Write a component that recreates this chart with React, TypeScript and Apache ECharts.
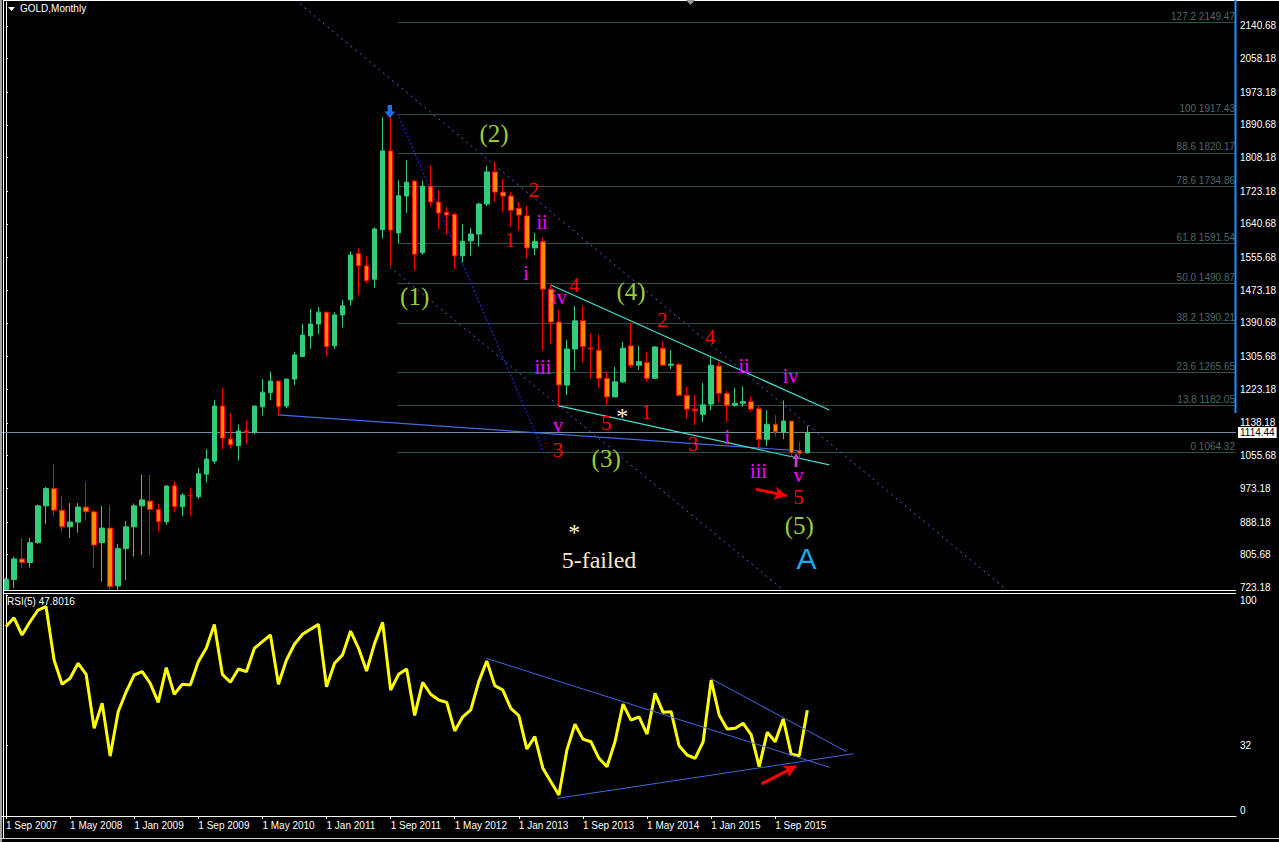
import React, { useEffect, useRef } from "react";
import * as echarts from "echarts";

// ---------- DATA ----------
const MONTHS = ["Jan", "Feb", "Mar", "Apr", "May", "Jun", "Jul", "Aug", "Sep", "Oct", "Nov", "Dec"];
const START_YEAR = 2007;
const START_MONTH = 8; // Sep
const SLOT_COUNT = 154; // visible monthly slots (data + empty future space)
const categories = Array.from({ length: SLOT_COUNT }, (_, i) => {
  const m = (START_MONTH + i) % 12;
  const y = START_YEAR + Math.floor((START_MONTH + i) / 12);
  return `1 ${MONTHS[m]} ${y}`;
});

// Monthly GOLD OHLC, Sep 2007 .. Jan 2016
const opens = [
  673, 743, 795, 786, 836, 929, 973, 918, 876, 888, 926, 914, 836, 873, 727, 821,
  876, 929, 941, 920, 889, 980, 927, 955, 952, 1009, 1042, 1181, 1098, 1081, 1118, 1114,
  1179, 1215, 1244, 1181, 1249, 1306, 1358, 1388, 1418, 1333, 1411, 1449, 1566, 1535, 1501, 1626,
  1825, 1618, 1711, 1749, 1568, 1736, 1696, 1670, 1665, 1560, 1598, 1615, 1691, 1772, 1721, 1711,
  1680, 1661, 1580, 1596, 1476, 1393, 1234, 1325, 1396, 1327, 1322, 1251, 1204, 1242, 1333, 1284,
  1291, 1251, 1327, 1284, 1286, 1208, 1173, 1160, 1186, 1282, 1213, 1183, 1188, 1192, 1174, 1097,
  1135, 1115, 1143, 1068, 1063,
];
const highs = [
  748, 801, 848, 848, 932, 977, 1035, 954, 936, 936, 989, 918, 929, 931, 833, 891,
  935, 1007, 1007, 934, 981, 992, 961, 974, 1025, 1072, 1196, 1226, 1163, 1135, 1146, 1182,
  1249, 1268, 1244, 1250, 1318, 1388, 1426, 1431, 1418, 1418, 1449, 1571, 1580, 1560, 1632, 1910,
  1923, 1751, 1802, 1749, 1750, 1789, 1726, 1683, 1669, 1640, 1630, 1694, 1787, 1798, 1754, 1722,
  1697, 1686, 1618, 1605, 1487, 1424, 1348, 1433, 1434, 1365, 1361, 1268, 1280, 1343, 1392, 1333,
  1318, 1332, 1344, 1322, 1290, 1230, 1209, 1239, 1306, 1294, 1219, 1227, 1230, 1205, 1181, 1171,
  1158, 1195, 1143, 1091, 1131,
];
const lows = [
  670, 722, 773, 773, 833, 883, 903, 864, 848, 861, 893, 773, 738, 681, 705, 742,
  801, 805, 805, 864, 881, 912, 903, 903, 946, 988, 1035, 1072, 1073, 1043, 1085, 1110,
  1157, 1196, 1157, 1176, 1234, 1306, 1325, 1363, 1308, 1325, 1379, 1435, 1461, 1491, 1479, 1604,
  1535, 1592, 1668, 1523, 1563, 1684, 1628, 1613, 1527, 1543, 1560, 1583, 1686, 1697, 1671, 1634,
  1624, 1555, 1562, 1321, 1338, 1179, 1209, 1271, 1293, 1252, 1226, 1184, 1204, 1239, 1277, 1272,
  1242, 1249, 1282, 1274, 1206, 1151, 1133, 1141, 1170, 1191, 1141, 1179, 1179, 1167, 1075, 1080,
  1104, 1098, 1053, 1047, 1061,
];
const closes = [
  743, 795, 786, 836, 929, 973, 918, 876, 888, 926, 914, 830, 873, 725, 821, 876,
  929, 944, 920, 889, 979, 927, 956, 954, 1010, 1047, 1181, 1100, 1083, 1118, 1115, 1181,
  1216, 1244, 1179, 1249, 1310, 1360, 1388, 1418, 1331, 1411, 1434, 1562, 1535, 1497, 1628, 1825,
  1625, 1712, 1746, 1564, 1736, 1696, 1668, 1663, 1560, 1597, 1615, 1691, 1772, 1721, 1711, 1675,
  1663, 1580, 1596, 1476, 1393, 1234, 1325, 1396, 1331, 1325, 1251, 1204, 1242, 1327, 1284, 1293,
  1251, 1330, 1284, 1287, 1208, 1173, 1169, 1184, 1284, 1213, 1183, 1188, 1192, 1173, 1097, 1135,
  1116, 1143, 1063, 1062, 1114.44,
];

// RSI(5)
const rsiValues = [
  85.7, 89.7, 81.9, 87.9, 93.2, 94.7, 70.6, 59.6, 62.3, 69.1, 64.1, 39.7, 51.0, 27.1, 47.2, 56.2,
  63.8, 65.3, 60.0, 51.4, 67.1, 55.1, 59.6, 59.3, 69.8, 76.0, 86.7, 64.1, 60.5, 66.5, 65.3, 75.9,
  78.9, 81.9, 59.6, 70.6, 77.7, 82.2, 84.5, 86.7, 58.5, 69.1, 72.9, 83.7, 75.9, 65.6, 78.1, 87.6,
  57.0, 64.1, 66.5, 45.5, 60.5, 55.1, 52.5, 51.4, 38.5, 44.9, 48.0, 60.8, 70.1, 59.0, 57.0, 48.7,
  45.4, 30.3, 35.9, 21.6, 15.5, 9.5, 29.9, 41.5, 34.8, 33.6, 26.1, 22.3, 33.6, 50.6, 43.4, 44.9,
  37.0, 55.5, 46.9, 47.2, 31.8, 27.6, 26.1, 33.6, 61.5, 45.7, 39.4, 39.7, 41.9, 36.7, 22.3, 37.9,
  33.6, 43.9, 27.9, 27.3, 47.8,
];

// Price axis tick labels (as printed by the terminal)
const priceTicks = [
  2140.68, 2058.18, 1973.18, 1890.68, 1808.18, 1723.18, 1640.68, 1555.68, 1473.18, 1390.68,
  1305.68, 1223.18, 1138.18, 1055.68, 973.18, 888.18, 805.68, 723.18,
];
const rsiTicks = [0, 32, 100];
const currentPrice = 1114.44;

// Fibonacci retracement levels
const fibRatios = ["127.2", "100", "88.6", "78.6", "61.8", "50.0", "38.2", "23.6", "13.8", "0"];
const fibPrices = [2149.47, 1917.43, 1820.17, 1734.86, 1591.54, 1490.87, 1390.21, 1265.65, 1182.05, 1064.32];
const fibStartMonth = 48.9;

// Trend lines on the price panel: [monthIndex, price] pairs
const channelUpper = [[36.1, 2206], [124.9, 716.6]];
const channelLower = [[47.9, 1532], [97.0, 716.6]];
const fibDiagonal = [[48.9, 1919], [67.1, 1065]];
const blueSupport = [[33.9, 1158.5], [99.25, 1067.6]];
const wedgeUpper = [[68.0, 1486.6], [102.75, 1171.1]];
const wedgeLower = [[69.0, 1181.2], [102.75, 1032.3]];
const priceRedArrow = [[93.6, 970.9], [97.4, 954.8]];

// Trend lines on the RSI panel: [monthIndex, rsi]
const rsiLineA = [[59.9, 71.4], [102.8, 22.0]];
const rsiLineB = [[68.8, 8.0], [105.8, 28.2]];
const rsiLineC = [[87.9, 62.3], [104.9, 29.1]];
const rsiRedArrow = [[94.3, 14.5], [98.6, 22.6]];

// Wave labels: text, monthIndex, price, kind
const waveLabels: [string, number, number, string][] = [
  ["(1)", 51.0, 1456.3, "major"],
  ["(2)", 60.9, 1870.2, "major"],
  ["(3)", 74.9, 1047.4, "major"],
  ["(4)", 78.0, 1468.9, "major"],
  ["(5)", 99.0, 878.3, "major"],
  ["1", 62.9, 1600.2, "minor"],
  ["2", 65.9, 1726.4, "minor"],
  ["3", 68.9, 1070.1, "minor"],
  ["4", 70.9, 1486.6, "minor"],
  ["5", 74.9, 1138.3, "minor"],
  ["1", 79.9, 1166.0, "minor"],
  ["2", 81.9, 1398.2, "minor"],
  ["3", 85.75, 1085.3, "minor"],
  ["4", 87.9, 1355.3, "minor"],
  ["5", 98.9, 951.5, "minor"],
  ["i", 64.9, 1516.9, "minute"],
  ["ii", 66.9, 1645.6, "minute"],
  ["iii", 67.0, 1279.6, "minute"],
  ["iv", 69.0, 1456.3, "minute"],
  ["v", 68.9, 1133.3, "minute"],
  ["i", 90.0, 1102.9, "minute"],
  ["ii", 92.1, 1282.1, "minute"],
  ["iii", 93.9, 1017.1, "minute"],
  ["iv", 97.9, 1256.9, "minute"],
  ["v", 98.9, 1007.0, "minute"],
  ["*", 76.9, 1155.9, "star"],
  ["*", 70.9, 863.2, "star"],
  ["5-failed", 74.0, 792.5, "note"],
  ["A", 99.9, 795.0, "cycle"],
];
const peakArrow = [47.9, 1924.5];
const lowArrow = [98.6, 1044.9];

// ---------- STYLE ----------
const labelStyles: Record<string, any> = {
  major: { color: "#9ACD32", fontSize: 25, fontFamily: "Liberation Serif" },
  minor: { color: "#FF0000", fontSize: 21, fontFamily: "Liberation Serif" },
  minute: { color: "#FF00FF", fontSize: 20, fontFamily: "Liberation Serif" },
  star: { color: "#FFF0DC", fontSize: 24, fontFamily: "Liberation Serif" },
  note: { color: "#F8E6CC", fontSize: 24, fontFamily: "Liberation Serif" },
  cycle: { color: "#1EA8F0", fontSize: 30, fontFamily: "Liberation Sans" },
};

const W = 1279;
const H = 842;
const AXIS_X = 1236;

function seg(name: string, data: number[][], color: string, type: any, width = 1, xi = 1, yi = 0, z = 3) {
  return {
    name,
    type: "line",
    xAxisIndex: xi,
    yAxisIndex: yi,
    data,
    symbol: "none",
    silent: true,
    lineStyle: { color, width, type },
    z,
  };
}

export default function App() {
  const ref = useRef<HTMLDivElement>(null);

  useEffect(() => {
    document.body.style.margin = "0";
    document.body.style.background = "#000";
    if (!ref.current) return;
    const chart = echarts.init(ref.current, null, { renderer: "svg" });

    const candleData = opens.map((o, i) => [o, closes[i], lows[i], highs[i]]);
    const labelInterval = (idx: number) => idx % 8 === 0 && idx <= 100;

    const fibMarkData = fibPrices.map((p, i) => [
      {
        coord: [fibStartMonth, p],
        label: { formatter: `${fibRatios[i]} ${p.toFixed(2)}` },
      },
      { coord: [SLOT_COUNT - 0.5, p] },
    ]);

    const option: any = {
      animation: false,
      backgroundColor: "#000",
      grid: [
        { left: 2, right: W - AXIS_X, top: 2, height: 588, containLabel: false, outerBoundsMode: "none" },
        { left: 2, right: W - AXIS_X, top: 595, height: 221, containLabel: false, outerBoundsMode: "none" },
      ],
      xAxis: [
        { type: "category", gridIndex: 0, data: categories, boundaryGap: true, show: false },
        { type: "value", gridIndex: 0, min: -0.5, max: SLOT_COUNT - 0.5, show: false },
        {
          type: "category",
          gridIndex: 1,
          data: categories,
          boundaryGap: true,
          z: 12,
          axisLine: { show: true, lineStyle: { color: "#FFFFFF", width: 1 } },
          axisTick: { show: true, interval: labelInterval, alignWithLabel: true, length: 3, lineStyle: { color: "#FFFFFF" } },
          axisLabel: {
            show: true,
            interval: labelInterval,
            color: "#FFFFFF",
            fontSize: 10,
            fontFamily: "Liberation Sans",
            align: "left",
            margin: 4,
          },
          splitLine: { show: false },
        },
        { type: "value", gridIndex: 1, min: -0.5, max: SLOT_COUNT - 0.5, show: false },
      ],
      yAxis: [
        {
          type: "value",
          gridIndex: 0,
          position: "right",
          min: 716.6,
          max: 2200.9,
          splitLine: { show: false },
          axisLine: { show: true, lineStyle: { color: "#FFFFFF", width: 1 } },
          axisTick: { show: true, length: 2, customValues: priceTicks, lineStyle: { color: "#FFFFFF" } },
          axisLabel: {
            show: true,
            customValues: priceTicks,
            formatter: (v: number) => v.toFixed(2),
            color: "#FFFFFF",
            fontSize: 10,
            fontFamily: "Liberation Sans",
            margin: 4,
          },
        },
        {
          type: "value",
          gridIndex: 1,
          position: "right",
          min: 0,
          max: 100,
          z: 12,
          splitLine: { show: false },
          axisLine: { show: true, lineStyle: { color: "#FFFFFF", width: 1 } },
          axisTick: { show: true, length: 2, customValues: rsiTicks, lineStyle: { color: "#FFFFFF" } },
          axisLabel: {
            show: true,
            customValues: rsiTicks,
            formatter: (v: number) => (v === 100 ? "{t|100}" : v === 0 ? "{b|0}" : "{m|" + v + "}"),
            color: "#FFFFFF",
            fontSize: 10,
            fontFamily: "Liberation Sans",
            margin: 4,
            rich: {
              t: { padding: [11, 0, 0, 0], color: "#FFFFFF", fontSize: 10, fontFamily: "Liberation Sans" },
              b: { padding: [0, 0, 11, 0], color: "#FFFFFF", fontSize: 10, fontFamily: "Liberation Sans" },
              m: { color: "#FFFFFF", fontSize: 10, fontFamily: "Liberation Sans" },
            },
          },
        },
      ],
      series: [
        {
          name: "fib",
          type: "line",
          xAxisIndex: 1,
          yAxisIndex: 0,
          data: [[fibStartMonth, fibPrices[1]]],
          symbol: "none",
          lineStyle: { width: 0 },
          silent: true,
          z: 1,
          markLine: {
            silent: true,
            symbol: ["none", "none"],
            animation: false,
            z: 1,
            lineStyle: { color: "#2F4F4F", width: 1, type: "solid", opacity: 1 },
            label: {
              show: true,
              position: "insideEndTop",
              color: "#4A6A6A",
              fontSize: 10,
              fontFamily: "Liberation Sans",
              distance: 1,
            },
            data: fibMarkData,
          },
        },
        {
          name: "GOLD",
          type: "candlestick",
          xAxisIndex: 0,
          yAxisIndex: 0,
          data: candleData,
          barWidth: 5,
          clip: true,
          z: 4,
          itemStyle: {
            color: "#33CC7A",
            color0: "#FF8C00",
            borderColor: "#33CC7A",
            borderColor0: "#FF0000",
            borderWidth: 1,
          },
          markLine: {
            silent: true,
            symbol: ["none", "none"],
            animation: false,
            z: 3,
            lineStyle: { color: "#778899", width: 1, type: "solid", opacity: 1 },
            label: {
              show: true,
              position: "end",
              formatter: currentPrice.toFixed(2),
              color: "#000000",
              backgroundColor: "#FFFFFF",
              fontSize: 10,
              fontFamily: "Liberation Sans",
              padding: [1, 2, 0, 2],
              distance: 2,
            },
            data: [{ yAxis: currentPrice }],
          },
        },
        seg("channelUpper", channelUpper, "#4169E1", [2, 4]),
        seg("channelLower", channelLower, "#4169E1", [2, 4]),
        seg("fibDiagonal", fibDiagonal, "#2233FF", [2, 2]),
        seg("blueSupport", blueSupport, "#4169E1", "solid", 1.2),
        seg("wedgeUpper", wedgeUpper, "#40E0D0", "solid", 1.2),
        seg("wedgeLower", wedgeLower, "#40E0D0", "solid", 1.2),
        {
          name: "arrows",
          type: "line",
          xAxisIndex: 1,
          yAxisIndex: 0,
          data: [priceRedArrow[0]],
          symbol: "none",
          lineStyle: { width: 0 },
          silent: true,
          markLine: {
            silent: true,
            animation: false,
            z: 6,
            symbol: ["none", "arrow"],
            symbolSize: [10, 12],
            label: { show: false },
            lineStyle: { color: "#FF0000", width: 3, type: "solid", opacity: 1 },
            data: [[{ coord: priceRedArrow[0] }, { coord: priceRedArrow[1] }]],
          },
        },
        {
          name: "waveLabels",
          type: "scatter",
          xAxisIndex: 1,
          yAxisIndex: 0,
          symbolSize: 0,
          silent: true,
          z: 6,
          itemStyle: { opacity: 1 },
          data: waveLabels.map(([t, x, y, k]) => ({
            value: [x, y],
            label: { show: true, position: "inside", formatter: t, opacity: 1, ...labelStyles[k] },
          })),
        },
        {
          name: "peakArrow",
          type: "scatter",
          xAxisIndex: 1,
          yAxisIndex: 0,
          silent: true,
          z: 6,
          symbol: "path://M3,0 L7,0 L7,6 L10,6 L5,12 L0,6 L3,6 Z",
          symbolSize: [11, 13],
          itemStyle: { color: "#1A73E0", opacity: 1 },
          data: [peakArrow],
        },
        {
          name: "lowArrow",
          type: "scatter",
          xAxisIndex: 1,
          yAxisIndex: 0,
          silent: true,
          z: 6,
          symbol: "path://M5,0 L10,6 L7,6 L7,14 L3,14 L3,6 L0,6 Z",
          symbolSize: [7, 14],
          itemStyle: { color: "#C040C0", opacity: 1 },
          data: [lowArrow],
        },
        {
          name: "RSI(5)",
          type: "line",
          xAxisIndex: 2,
          yAxisIndex: 1,
          data: rsiValues,
          symbol: "none",
          silent: true,
          z: 12,
          lineStyle: { color: "#FFFF00", width: 3 },
        },
        seg("rsiLineA", rsiLineA, "#4169E1", "solid", 1, 3, 1, 12),
        seg("rsiLineB", rsiLineB, "#4169E1", "solid", 1, 3, 1, 12),
        seg("rsiLineC", rsiLineC, "#4169E1", "solid", 1, 3, 1, 12),
        {
          name: "rsiArrow",
          type: "line",
          xAxisIndex: 3,
          yAxisIndex: 1,
          data: [rsiRedArrow[0]],
          symbol: "none",
          lineStyle: { width: 0 },
          silent: true,
          z: 12,
          markLine: {
            silent: true,
            animation: false,
            z: 14,
            symbol: ["none", "arrow"],
            symbolSize: [10, 12],
            label: { show: false },
            lineStyle: { color: "#FF0000", width: 3, type: "solid", opacity: 1 },
            data: [[{ coord: rsiRedArrow[0] }, { coord: rsiRedArrow[1] }]],
          },
        },
      ],
      graphic: [
        // mask that keeps the price panel's overflowing candles out of the indicator panel
        { type: "rect", z: 10, shape: { x: 4, y: 591, width: AXIS_X - 4.5, height: 225.5 }, style: { fill: "#000000" }, silent: true },
        { type: "rect", z: 11, shape: { x: 0, y: 0, width: 2, height: H }, style: { fill: "#A0A0A0" }, silent: true },
        { type: "line", z: 11, shape: { x1: 3.5, y1: 0, x2: 3.5, y2: 838 }, style: { stroke: "#FFFFFF", lineWidth: 1 }, silent: true },
        { type: "line", z: 11, shape: { x1: 3, y1: 0.5, x2: W, y2: 0.5 }, style: { stroke: "#FFFFFF", lineWidth: 1 }, silent: true },
        { type: "line", z: 11, shape: { x1: 3, y1: 590.5, x2: AXIS_X, y2: 590.5 }, style: { stroke: "#FFFFFF", lineWidth: 1 }, silent: true },
        { type: "line", z: 11, shape: { x1: 3, y1: 593.5, x2: AXIS_X, y2: 593.5 }, style: { stroke: "#FFFFFF", lineWidth: 1 }, silent: true },
        { type: "line", z: 11, shape: { x1: 0, y1: 838.5, x2: W, y2: 838.5 }, style: { stroke: "#D0D0D0", lineWidth: 1 }, silent: true },
        { type: "line", z: 100, shape: { x1: AXIS_X - 0.5, y1: 0, x2: AXIS_X - 0.5, y2: 413 }, style: { stroke: "#1E90FF", lineWidth: 2 }, silent: true },
        { type: "polygon", z: 11, shape: { points: [[686, 0], [695, 0], [690.5, 5]] }, style: { fill: "#9A9A9A" }, silent: true },
        { type: "polygon", z: 11, shape: { points: [[8, 7], [15, 7], [11.5, 11]] }, style: { fill: "#FFFFFF" }, silent: true },
        {
          type: "text",
          z: 11,
          left: 20,
          top: 3,
          style: { text: "GOLD,Monthly", fill: "#FFFFFF", fontSize: 10, fontFamily: "Liberation Sans" },
          silent: true,
        },
        {
          type: "text",
          z: 13,
          left: 7,
          top: 596,
          style: { text: "RSI(5) 47.8016", fill: "#FFFFFF", fontSize: 10, fontFamily: "Liberation Sans" },
          silent: true,
        },
      ],
    };

    chart.setOption(option);
    return () => chart.dispose();
  }, []);

  return (
    <div
      ref={ref}
      style={{ position: "absolute", left: 0, top: 0, width: W, height: H, background: "#000" }}
    />
  );
}
